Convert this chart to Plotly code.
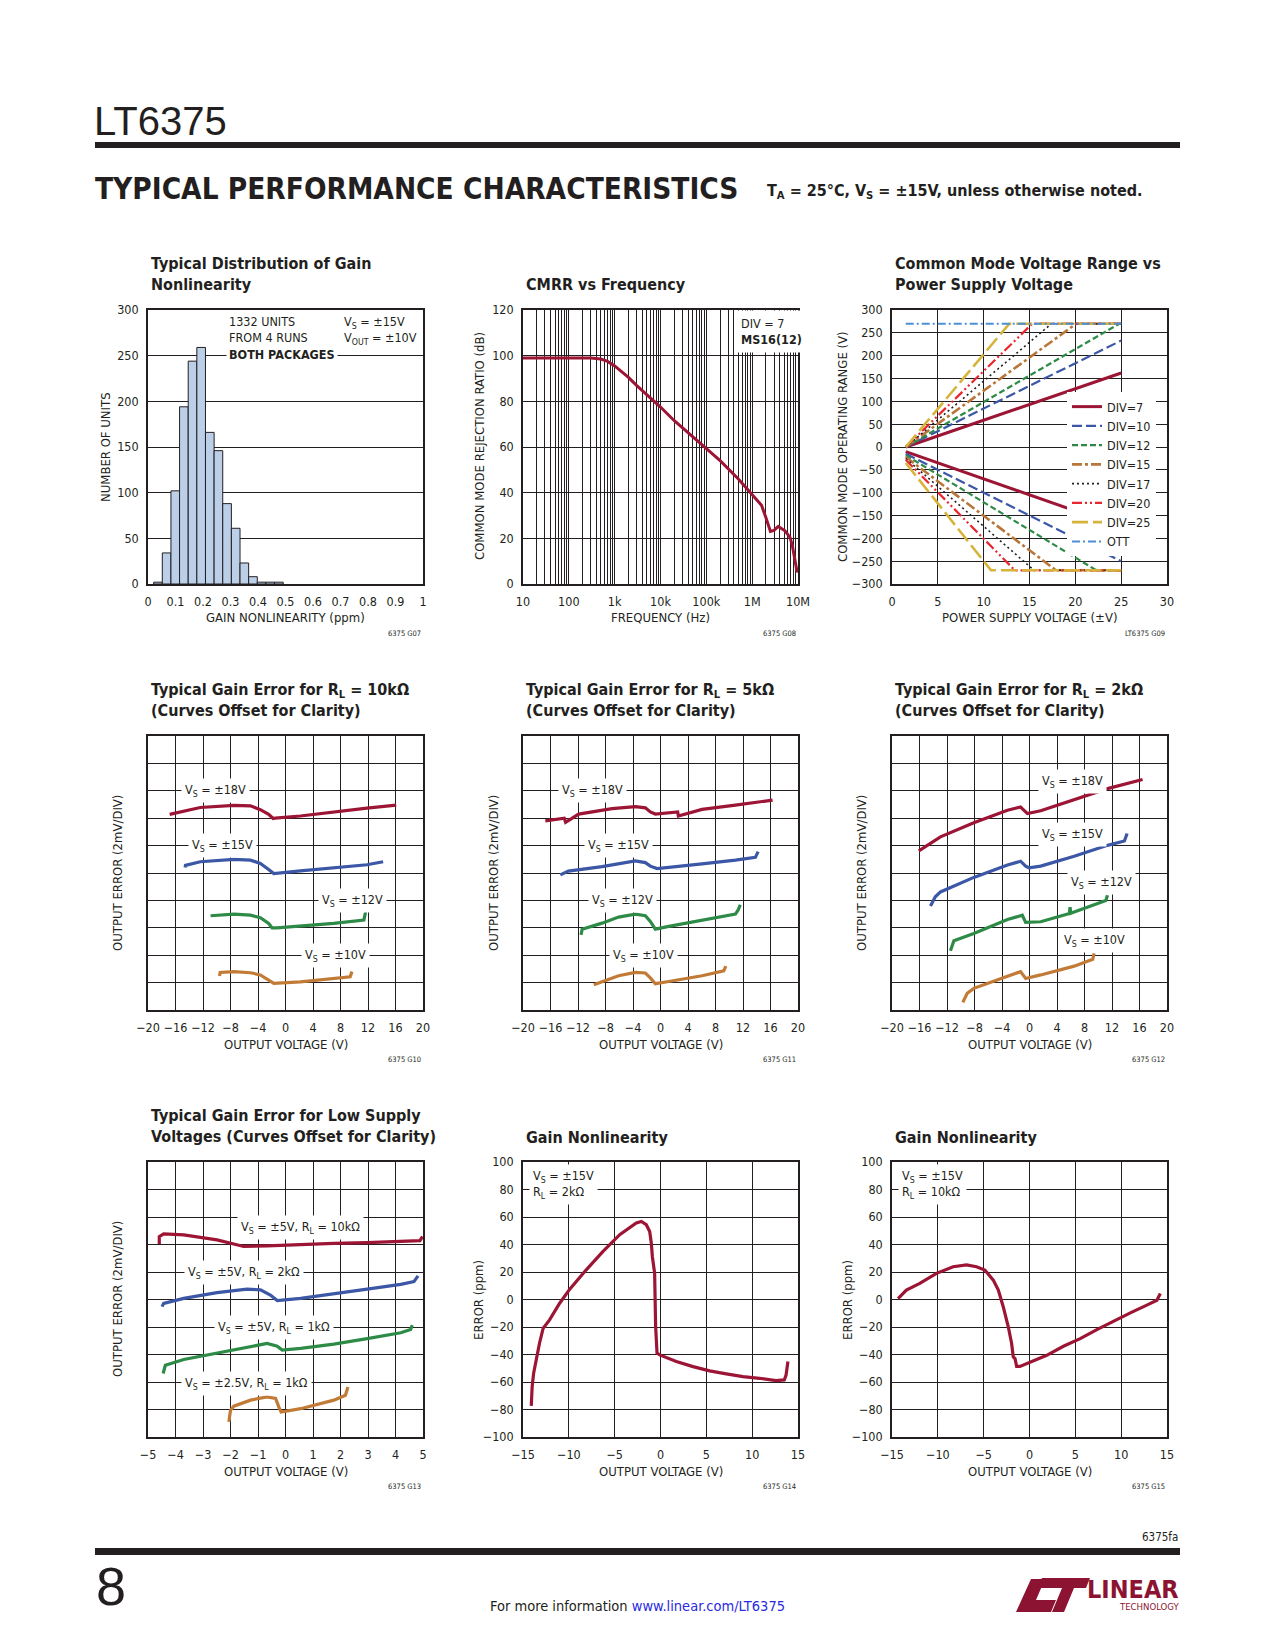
import plotly.graph_objects as go

W, H = 1275, 1650
OFF = 8  # page body margin of the html page
FONT = "DejaVu Sans Condensed, Liberation Sans Narrow, Roboto, sans-serif"
INK = "#231f20"
RED = "#9d1535"
BLUE = "#3b57a6"
GREEN = "#2e8b47"
ORANGE = "#c27b36"

# ---------------- data ----------------
# Chart 1: histogram of gain nonlinearity
HIST_BIN_LO = [0.0206, 0.052, 0.0834, 0.1148, 0.1462, 0.1776, 0.209, 0.2404,
               0.2718, 0.3032, 0.3346, 0.366, 0.3974, 0.4288, 0.4602]
HIST_BIN_W = 0.0314
HIST_COUNTS = [2, 34, 102, 194, 244, 259, 166, 146, 88, 61, 23, 8, 2, 2, 2]

# Chart 2: CMRR vs frequency
CMRR_F = [10, 30, 100, 200, 300, 500, 700, 1000, 2000, 3000, 5000, 10000, 20000,
          50000, 100000, 200000, 500000, 1e6, 1.6e6, 2.0e6, 2.5e6, 3.0e6, 3.7e6,
          5.2e6, 6.7e6, 7.5e6, 8.3e6, 9.0e6, 9.6e6]
CMRR_DB = [99, 99, 99, 99, 99, 98.5, 97.5, 95.5, 90.5, 87, 83, 77.5, 71.5, 64.5,
           59.5, 54, 46, 39, 34.5, 29, 23, 23.5, 25.2, 23.3, 20.4, 17, 12.5, 8.5, 5]
CMRR_TICKS = [10, 100, 1000, 10000, 100000, 1e6, 1e7]
CMRR_TICK_LABELS = ["10", "100", "1k", "10k", "100k", "1M", "10M"]

# Chart 3: common mode range vs supply
CM_NAMES = ["DIV=7", "DIV=10", "DIV=12", "DIV=15", "DIV=17", "DIV=20", "DIV=25", "OTT"]
CM_UP_X = [[1.5, 25], [1.5, 25], [1.5, 24.8, 25], [1.5, 20.1, 25], [1.5, 17.4, 25],
           [1.5, 15.3, 25], [1.5, 12.8, 25], [1.5, 25]]
CM_UP_Y = [[0, 162], [0, 233], [0, 270, 270], [0, 270, 270], [0, 270, 270],
           [0, 270, 270], [0, 270, 270], [270, 270]]
CM_LO_X = [[1.5, 25], [1.5, 25], [1.5, 22.3, 25], [1.5, 17.9, 25], [1.5, 15.5, 25],
           [1.5, 13.4, 25], [1.5, 10.8, 25], []]
CM_LO_Y = [[-10, -175], [-15, -250], [-18, -270, -270], [-22, -270, -270],
           [-25, -270, -270], [-28, -270, -270], [-35, -270, -270], []]
CM_COLORS = [RED, "#3b57a6", "#2e8b47", "#b8773a", INK, "#e8262d", "#d6b43c", "#4d8fd6"]
CM_DASH = ["solid", "10px,4px", "6px,3px", "10px,3px,3px,3px", "2px,3px",
           "10px,3px,2px,3px,2px,3px", "16px,5px", "8px,3px,2px,3px"]
CM_WIDTH = [3, 2.2, 2.2, 2.6, 1.6, 2.2, 2.6, 2.0]

# Charts 4-6: gain error curves (2mV/div, offset), order 18V, 15V, 12V, 10V
VS_LABELS = ["V<sub>S</sub> = ±18V", "V<sub>S</sub> = ±15V",
             "V<sub>S</sub> = ±12V", "V<sub>S</sub> = ±10V"]
G10_X = [[-16.85, -12.4, -7.5, -5.1, -3.66, -2.45, -1.8, -1.5, 2.16, 7.0, 11.85, 16.1],
         [-14.6, -14.55, -12.4, -7.5, -5.1, -3.66, -2.45, -1.7, 2.16, 7.0, 11.85, 14.2],
         [-10.9, -7.5, -5.1, -3.66, -2.45, -1.96, -1.24, 2.16, 7.0, 11.4, 11.6, 11.65],
         [-9.6, -9.5, -7.5, -5.1, -3.66, -2.45, -1.7, 2.16, 7.0, 9.4, 9.67]]
G10_Y = [[7.14, 7.39, 7.47, 7.45, 7.31, 7.14, 6.99, 7.0, 7.08, 7.23, 7.37, 7.48],
         [5.2, 5.28, 5.41, 5.5, 5.47, 5.35, 5.13, 4.98, 5.08, 5.2, 5.3, 5.41],
         [3.44, 3.5, 3.46, 3.37, 3.16, 3.0, 3.0, 3.06, 3.16, 3.28, 3.46, 3.58],
         [1.24, 1.37, 1.4, 1.36, 1.28, 1.09, 0.97, 1.03, 1.15, 1.21, 1.4]]
G10_LBL_X = [-10.2, -9.1, 9.8, 7.2]
G10_LBL_Y = [8.0, 6.0, 4.0, 2.0]

G11_X = [[-16.75, -14.0, -13.8, -11.9, -7.05, -3.66, -2.2, -1.48, -0.75, 1.19, 2.5, 2.6, 6.04,
          10.9, 16.3],
         [-14.57, -13.4, -8.5, -3.66, -2.2, -1.48, -0.5, 1.2, 6.04, 10.9, 13.8, 14.2],
         [-11.56, -11.4, -8.5, -6.1, -3.66, -2.2, -1.48, -0.75, 1.2, 6.04, 10.9, 11.3, 11.6],
         [-9.7, -8.5, -6.1, -3.66, -2.2, -1.48, -0.75, 1.2, 6.04, 9.2, 9.5]]
G11_Y = [[6.9, 7.0, 6.85, 7.15, 7.35, 7.42, 7.38, 7.23, 7.15, 7.2, 7.23, 7.08, 7.32,
          7.48, 7.66],
         [4.93, 5.07, 5.23, 5.44, 5.38, 5.25, 5.16, 5.2, 5.33, 5.47, 5.57, 5.78],
         [2.74, 2.95, 3.17, 3.39, 3.5, 3.44, 3.23, 2.95, 3.05, 3.27, 3.5, 3.65, 3.84],
         [0.92, 1.04, 1.25, 1.37, 1.35, 1.17, 0.96, 1.04, 1.25, 1.43, 1.6]]
G11_LBL_X = [-9.96, -6.1, -5.6, -2.45]
G11_LBL_Y = [8.0, 6.0, 4.0, 2.0]

G12_X = [[-16.1, -12.95, -8.1, -3.2, -1.3, -0.56, -0.3, 1.63, 6.5, 11.35, 16.45],
         [-14.4, -13.7, -12.95, -8.1, -3.2, -1.3, -0.56, -0.07, 1.63, 6.5, 11.35, 13.8, 14.2],
         [-11.5, -11.0, -8.1, -3.2, -1.05, -0.56, 1.63, 5.8, 5.9, 6.0, 6.5, 11.1, 11.35],
         [-9.7, -9.06, -8.1, -3.2, -1.3, -0.56, 1.63, 6.5, 9.2, 9.4]]
G12_Y = [[5.81, 6.32, 6.83, 7.29, 7.41, 7.23, 7.17, 7.27, 7.68, 8.08, 8.41],
         [3.8, 4.13, 4.31, 4.84, 5.29, 5.43, 5.25, 5.19, 5.25, 5.61, 6.01, 6.17, 6.44],
         [2.16, 2.53, 2.79, 3.3, 3.46, 3.2, 3.22, 3.52, 3.75, 3.53, 3.58, 4.0, 4.19],
         [0.28, 0.61, 0.79, 1.24, 1.4, 1.15, 1.28, 1.6, 1.85, 2.07]]
G12_LBL_X = [6.3, 6.3, 10.4, 9.4]
G12_LBL_Y = [8.35, 6.4, 4.65, 2.53]

# Chart 7: low supply voltages
LS_LABELS = ["V<sub>S</sub> = ±5V, R<sub>L</sub> = 10kΩ", "V<sub>S</sub> = ±5V, R<sub>L</sub> = 2kΩ",
             "V<sub>S</sub> = ±5V, R<sub>L</sub> = 1kΩ", "V<sub>S</sub> = ±2.5V, R<sub>L</sub> = 1kΩ"]
LS_X = [[-4.59, -4.59, -4.43, -3.7, -2.49, -1.52, -0.67, 0.55, 1.76, 2.97, 4.19, 4.89, 4.98],
        [-4.49, -4.43, -3.7, -2.49, -1.4, -0.91, -0.55, -0.3, 0.55, 1.76, 2.97, 4.19, 4.67, 4.82],
        [-4.45, -4.37, -3.7, -2.49, -1.27, -0.67, -0.3, -0.12, 0.55, 1.76, 2.97, 4.19, 4.55, 4.61],
        [-2.06, -2.0, -1.88, -1.27, -0.67, -0.36, -0.24, -0.16, 0.55, 1.76, 2.18, 2.27]]
LS_Y = [[7.02, 7.29, 7.39, 7.35, 7.17, 6.93, 6.95, 7.0, 7.04, 7.07, 7.11, 7.14, 7.29],
        [4.74, 4.86, 5.04, 5.25, 5.38, 5.35, 5.16, 4.96, 5.04, 5.22, 5.38, 5.55, 5.65, 5.86],
        [2.31, 2.61, 2.82, 3.06, 3.3, 3.4, 3.3, 3.16, 3.22, 3.38, 3.58, 3.79, 3.91, 4.07],
        [0.55, 0.97, 1.12, 1.34, 1.46, 1.4, 1.09, 0.91, 1.03, 1.34, 1.52, 1.82]]
LS_LBL_X = [0.55, -1.52, -0.42, -1.43]
LS_LBL_Y = [7.63, 6.0, 4.0, 1.95]

# Charts 8-9: gain nonlinearity
GN2K_X = [-14.1, -14.0, -13.84, -13.55, -13.2, -12.8, -12.1, -11.0, -9.9, -8.1, -6.27,
          -4.45, -2.64, -2.09, -1.55, -1.18, -1.0, -0.89, -0.64, -0.53, -0.38, -0.09,
          1.73, 3.55, 5.36, 7.18, 9.0, 10.8, 12.6, 13.5, 13.7, 13.9]
GN2K_Y = [-77.4, -63.3, -53.6, -42.7, -31.8, -20.9, -14.8, -2.7, 7.5, 21.6, 35, 47.1,
          55.6, 56.8, 54.4, 49.5, 41, 31.3, 19.2, -19.7, -39, -40.3, -45.1, -48.8, -51.9,
          -54.1, -56.1, -57.3, -59, -58.5, -54.9, -45.1]
GN10K_X = [-14.34, -13.43, -11.97, -10.15, -8.33, -6.87, -5.78, -4.87, -3.95, -3.4, -2.86,
           -2.31, -1.95, -1.77, -1.58, -1.4, -1.04, 0.06, 1.88, 3.7, 5.53, 7.35, 9.17,
           11.0, 12.8, 13.9, 14.27]
GN10K_Y = [0.7, 6.8, 11.7, 19, 23.8, 25.1, 23.8, 21.4, 14.1, 6.8, -5.4, -20, -32, -41.8,
           -43, -48.7, -48.7, -45.5, -40.6, -34, -28.5, -21.9, -15.6, -9.7, -4.1, -0.5, 4.4]

CURVE_COLORS = [RED, BLUE, GREEN, ORANGE]

# ---------------- layout helpers ----------------
COLS = [(148, 423), (523, 798), (892, 1167)]
ROWS = [(310, 584), (736, 1010), (1162, 1437)]


def px(xp):
    return (xp - OFF) / W


def py(yp):
    return 1 - (yp - OFF) / H


fig = go.Figure()
annotations = []
shapes = []

AX_COMMON = dict(showline=True, mirror=True, linecolor=INK, linewidth=1.6,
                 gridcolor=INK, gridwidth=1, zeroline=False, ticks="outside",
                 ticklen=5, tickcolor="rgba(0,0,0,0)", automargin=False,
                 tickfont=dict(family=FONT, size=12.5, color=INK))


def make_axes(n, col, row, xcfg, ycfg):
    l, r = COLS[col]
    t, b = ROWS[row]
    xa = dict(AX_COMMON, domain=[px(l), px(r)], anchor="y%d" % n)
    xa.update(xcfg)
    ya = dict(AX_COMMON, domain=[py(b), py(t)], anchor="x%d" % n)
    ya.update(ycfg)
    key = "" if n == 1 else str(n)
    fig.update_layout(**{"xaxis" + key: xa, "yaxis" + key: ya})


def text(x, y, s, size=12.5, xanchor="left", yanchor="middle", bold=False, color=INK,
         angle=0, align="left", bg=None, family=FONT, pad=1):
    if bold:
        s = "<b>" + s + "</b>"
    a = dict(x=px(x), y=py(y), xref="paper", yref="paper", text=s, showarrow=False,
             xanchor=xanchor, yanchor=yanchor, align=align, textangle=angle,
             font=dict(family=family, size=size, color=color), borderpad=pad)
    if bg:
        a["bgcolor"] = bg
    annotations.append(a)


def dlabel(n, x, y, s, size=12.5, xanchor="center", pad=3, align="center"):
    annotations.append(dict(x=x, y=y, xref="x%d" % n, yref="y%d" % n, text=s,
                            showarrow=False, xanchor=xanchor, yanchor="middle",
                            align=align, bgcolor="white", borderpad=pad,
                            font=dict(family=FONT, size=size, color=INK)))


def chart_texts(col, row, title, xtitle, code, title_lines=2):
    l, r = COLS[col]
    t, b = ROWS[row]
    cy = t - 36 if title_lines == 2 else t - 25
    text(l + 1, cy, title, size=16, bold=True, yanchor="middle")
    text((l + r) / 2, b + 34, xtitle, size=13, xanchor="center")
    text(r, b + 49, code, size=7.5, xanchor="right")


# ---------------- Chart 1: histogram ----------------
make_axes(1, 0, 0,
          dict(range=[0, 1], dtick=0.1, showgrid=False),
          dict(range=[0, 300], dtick=50, showgrid=True))
fig.add_trace(go.Bar(x=[lo + HIST_BIN_W / 2 for lo in HIST_BIN_LO], y=HIST_COUNTS,
                     width=HIST_BIN_W, marker=dict(color="#bccfe8", line=dict(color=INK, width=1)),
                     xaxis="x1", yaxis="y1", showlegend=False))
chart_texts(0, 0, "Typical Distribution of Gain<br>Nonlinearity", "GAIN NONLINEARITY (ppm)",
            "6375 G07")
text(105, 447, "NUMBER OF UNITS", size=13, xanchor="center", angle=-90)
dlabel(1, 0.285, 269, "1332 UNITS<br>FROM 4 RUNS<br><b>BOTH PACKAGES</b>", xanchor="left",
       align="left", pad=2)
dlabel(1, 0.705, 278, "V<sub>S</sub> = ±15V<br>V<sub>OUT</sub> = ±10V", xanchor="left",
       align="left", pad=1)

# ---------------- Chart 2: CMRR ----------------
grid_vals = [dec * d for dec in CMRR_TICKS[:-1] for d in range(2, 10)]
make_axes(2, 1, 0,
          dict(type="log", range=[1, 7], tickmode="array", tickvals=CMRR_TICKS,
               ticktext=CMRR_TICK_LABELS, showgrid=True,
               minor=dict(tickmode="array", tickvals=grid_vals, showgrid=True,
                          gridcolor=INK, gridwidth=1, ticks="")),
          dict(range=[0, 120], dtick=20, showgrid=True))
fig.add_trace(go.Scatter(x=CMRR_F, y=CMRR_DB, mode="lines", line=dict(color=RED, width=3),
                         xaxis="x2", yaxis="y2", showlegend=False))
chart_texts(1, 0, "CMRR vs Frequency", "FREQUENCY (Hz)", "6375 G08", title_lines=1)
text(480, 446, "COMMON MODE REJECTION RATIO (dB)", size=13, xanchor="center", angle=-90)
dlabel(2, 5.62, 110.5, "DIV = 7<br><b>MS16(12)</b>", xanchor="left", align="left", pad=5)

# ---------------- Chart 3: common mode range ----------------
make_axes(3, 2, 0,
          dict(range=[0, 30], dtick=5, showgrid=True),
          dict(range=[-300, 300], dtick=50, showgrid=True))
for i, name in enumerate(CM_NAMES):
    xs = list(CM_UP_X[i])
    ys = list(CM_UP_Y[i])
    if CM_LO_X[i]:
        xs += [None] + CM_LO_X[i]
        ys += [None] + CM_LO_Y[i]
    fig.add_trace(go.Scatter(x=xs, y=ys, mode="lines", name=name,
                             line=dict(color=CM_COLORS[i], width=CM_WIDTH[i], dash=CM_DASH[i]),
                             xaxis="x3", yaxis="y3", showlegend=True))
chart_texts(2, 0, "Common Mode Voltage Range vs<br>Power Supply Voltage",
            "POWER SUPPLY VOLTAGE (±V)", "LT6375 G09")
text(842, 447, "COMMON MODE OPERATING RANGE (V)", size=13, xanchor="center", angle=-90)

# ---------------- Row 2: gain error ----------------
GE_SETS = [(G10_X, G10_Y, G10_LBL_X, G10_LBL_Y, "10kΩ", "6375 G10", 117),
           (G11_X, G11_Y, G11_LBL_X, G11_LBL_Y, "5kΩ", "6375 G11", 493),
           (G12_X, G12_Y, G12_LBL_X, G12_LBL_Y, "2kΩ", "6375 G12", 861)]
for c, (gx, gy, lx, ly, rl, code, ytx) in enumerate(GE_SETS):
    n = 4 + c
    make_axes(n, c, 1,
              dict(range=[-20, 20], dtick=4, showgrid=True),
              dict(range=[0, 10], dtick=1, showgrid=True, showticklabels=False))
    for k in range(4):
        fig.add_trace(go.Scatter(x=gx[k], y=gy[k], mode="lines",
                                 line=dict(color=CURVE_COLORS[k], width=3.2),
                                 xaxis="x%d" % n, yaxis="y%d" % n, showlegend=False))
        dlabel(n, lx[k], ly[k], VS_LABELS[k])
    chart_texts(c, 1, "Typical Gain Error for R<sub>L</sub> = %s<br>(Curves Offset for Clarity)" % rl,
                "OUTPUT VOLTAGE (V)", code)
    text(ytx, 873, "OUTPUT ERROR (2mV/DIV)", size=13, xanchor="center", angle=-90)

# ---------------- Row 3, chart 7: low supply ----------------
make_axes(7, 0, 2,
          dict(range=[-5, 5], dtick=1, showgrid=True),
          dict(range=[0, 10], dtick=1, showgrid=True, showticklabels=False))
for k in range(4):
    fig.add_trace(go.Scatter(x=LS_X[k], y=LS_Y[k], mode="lines",
                             line=dict(color=CURVE_COLORS[k], width=3.2),
                             xaxis="x7", yaxis="y7", showlegend=False))
    dlabel(7, LS_LBL_X[k], LS_LBL_Y[k], LS_LABELS[k])
chart_texts(0, 2, "Typical Gain Error for Low Supply<br>Voltages (Curves Offset for Clarity)",
            "OUTPUT VOLTAGE (V)", "6375 G13")
text(117, 1299, "OUTPUT ERROR (2mV/DIV)", size=13, xanchor="center", angle=-90)

# ---------------- Row 3, charts 8-9: gain nonlinearity ----------------
GN_SETS = [(GN2K_X, GN2K_Y, "2kΩ", "6375 G14", 478),
           (GN10K_X, GN10K_Y, "10kΩ", "6375 G15", 847)]
for c, (gx, gy, rl, code, ytx) in enumerate(GN_SETS):
    n = 8 + c
    make_axes(n, 1 + c, 2,
              dict(range=[-15, 15], dtick=5, showgrid=True),
              dict(range=[-100, 100], dtick=20, showgrid=True))
    fig.add_trace(go.Scatter(x=gx, y=gy, mode="lines", line=dict(color=RED, width=3.2),
                             xaxis="x%d" % n, yaxis="y%d" % n, showlegend=False))
    chart_texts(1 + c, 2, "Gain Nonlinearity", "OUTPUT VOLTAGE (V)", code, title_lines=1)
    text(ytx, 1300, "ERROR (ppm)", size=13, xanchor="center", angle=-90)
    dlabel(n, -14.4, 84, "V<sub>S</sub> = ±15V<br>R<sub>L</sub> = %s" % rl, xanchor="left",
           align="left", pad=3)

# ---------------- page header / footer ----------------
text(92, 121, "LT6375", size=40, family="Liberation Sans, Roboto, sans-serif")
shapes.append(dict(type="rect", xref="paper", yref="paper", x0=px(95), x1=px(1180),
                   y0=py(148), y1=py(142), fillcolor=INK, line=dict(width=0)))
text(93, 189, "TYPICAL PERFORMANCE CHARACTERISTICS", size=29.5, bold=True)
text(765, 191, "T<sub>A</sub> = 25°C, V<sub>S</sub> = ±15V, unless otherwise noted.", size=16,
     bold=True)
text(1180, 1537, "6375fa", size=11.5, xanchor="right")
shapes.append(dict(type="rect", xref="paper", yref="paper", x0=px(95), x1=px(1180),
                   y0=py(1555), y1=py(1548), fillcolor=INK, line=dict(width=0)))
text(94, 1586, "8", size=54, family="Liberation Sans, Roboto, sans-serif")
text(637, 1606, "For more information <span style='color:#2a2adf'>www.linear.com/LT6375</span>",
     size=14.5, xanchor="center")
LOGO = "#8c1331"
text(1181, 1589, "LINEAR", size=25, bold=True, xanchor="right", color=LOGO)
text(1181, 1606, "TECHNOLOGY", size=9.5, xanchor="right", color=LOGO)


def ppath(pts):
    return "M" + " L".join("%.5f,%.5f" % (px(a), py(b)) for a, b in pts) + " Z"


shapes.append(dict(type="path", xref="paper", yref="paper",
                   path=ppath([(1016, 1612), (1031, 1579), (1045, 1579), (1036, 1600),
                               (1056, 1600), (1051, 1612)]),
                   fillcolor=LOGO, line=dict(width=0)))
shapes.append(dict(type="path", xref="paper", yref="paper",
                   path=ppath([(1042, 1578), (1090, 1578), (1086, 1588), (1074, 1588),
                               (1064, 1612), (1052, 1612), (1062, 1588), (1038, 1588)]),
                   fillcolor=LOGO, line=dict(width=0)))

fig.update_layout(
    width=W, height=H, margin=dict(l=0, r=0, t=0, b=0, pad=0),
    paper_bgcolor="white", plot_bgcolor="white",
    font=dict(family=FONT, size=12.5, color=INK),
    annotations=annotations, shapes=shapes,
    legend=dict(x=px(1067), y=py(392), xanchor="left", yanchor="top", bgcolor="white",
                borderwidth=0, font=dict(family=FONT, size=12.5, color=INK),
                tracegroupgap=0, itemwidth=30),
)

fig.write_html("out.html")
